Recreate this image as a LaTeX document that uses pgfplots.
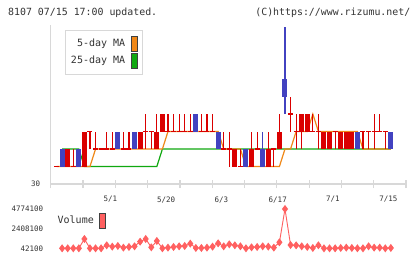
\documentclass[border=0pt]{standalone}
\usepackage{fontspec}
\setmainfont{DejaVu Sans Mono}
\usepackage{pgfplots}
\pgfplotsset{compat=1.18}
\definecolor{cred}{RGB}{218,0,0}
\definecolor{cblue}{RGB}{66,66,192}
\definecolor{maorange}{RGB}{240,136,24}
\definecolor{magreen}{RGB}{16,168,16}
\definecolor{volred}{RGB}{255,96,96}
\definecolor{axgray}{RGB}{216,216,216}
\definecolor{txt}{RGB}{51,51,51}
\begin{document}
\begin{tikzpicture}
\fill[white] (0bp,0bp) rectangle (420bp,259bp);
\useasboundingbox (0bp,0bp) rectangle (420bp,259bp);
\node[anchor=west, text=txt, font=\fontsize{9.9bp}{11bp}\selectfont, inner sep=0pt] at (8bp,246.5bp) {8107 07/15 17:00 updated.};
\node[anchor=east, text=txt, font=\fontsize{9.9bp}{11bp}\selectfont, inner sep=0pt] at (410.5bp,246.5bp) {(C)https://www.rizumu.net/};
% ---------------- price chart ----------------
\begin{axis}[
  scale only axis, width=355.3bp, height=159bp,
  at={(50.7bp,75bp)}, anchor=south west,
  xmin=-1.05, xmax=62.72, ymin=30, ymax=39.09,
  axis lines*=left,
  axis line style={draw=axgray, line width=1.2bp},
  clip=false,
  /pgf/number format/assume math mode=true,
  xtick={-1.05,4.747,10.545,16.342,22.14,27.936,33.73,39.53,45.33,51.12,56.92,62.72},
  xticklabels={},
  x tick style={draw=axgray, line width=1.2bp},
  major tick length=8bp, tick align=center,
  extra x ticks={9.65,19.65,29.6,39.7,49.6,59.55},
  extra x tick labels={5/1,5/20,6/3,6/17,7/1,7/15},
  extra x tick style={major tick length=0pt, tick label style={yshift=-9bp}},
  ytick={30}, yticklabels={30},
  y tick style={draw=none},
  yticklabel style={xshift=-3bp},
  tick label style={font=\fontsize{7.5bp}{8bp}\selectfont, text=txt},
  unbounded coords=jump,
  legend plot pos=right,
  legend cell align=right,
  legend style={at={(0.0402,0.9686)}, anchor=north west, draw=axgray, line width=1bp, fill=white,
    inner xsep=5bp, inner ysep=5.5bp, row sep=1bp, column sep=5bp,
    font=\fontsize{10bp}{11bp}\selectfont, text=txt, nodes={inner sep=0.5bp}},
]
% 25-day MA
\addplot[magreen, line width=1.2bp, forget plot] coordinates {
(1,32)(2,32)(3,32)(4,32)(5,31)(6,31)(7,31)(8,31)(9,31)(10,31)(11,31)(12,31)(13,31)(14,31)(15,31)(16,31)(17,31)(18,31)
(19,32)(20,32)(21,32)(22,32)(23,32)(24,32)(25,32)(26,32)(27,32)(28,32)(29,32)(30,32)(31,32)(32,32)(33,32)(34,32)(35,32)
(36,32)(37,32)(38,32)(39,32)(40,32)(41,32)(42,32)(43,32)(44,32)(45,32)(46,32)(47,32)(48,32)(49,32)(50,32)(51,32)(52,32)
(53,32)(54,32)(55,32)(56,32)(57,32)(58,32)(59,32)(60,32)
};
% 5-day MA
\addplot[maorange, line width=1.2bp, forget plot] coordinates {
(0,31)(1,31)(2,31)(3,31)(4,31)(5,31)(6,31)(7,32)(8,32)(9,32)(10,32)(11,32)(12,32)(13,32)(14,32)(15,32)(16,32)(17,32)
(18,32)(19,32)(20,33)(21,33)(22,33)(23,33)(24,33)(25,33)(26,33)(27,33)(28,33)(29,33)(30,32)(31,32)(32,32)(33,32)
(34,31)(35,31)(36,31)(37,31)(38,31)(39,31)(40,31)(41,32)(42,32)(43,33)(44,33)(45,33)(46,34)(47,33)(48,33)(49,33)
(50,33)(51,33)(52,33)(53,33)(54,33)(55,32)(56,32)(57,32)(58,32)(59,32)(60,32)
};
% red wicks
\addplot[cred, line width=1.1bp, forget plot] coordinates {
(3,31)(3,32)(3,nan)
(6,32)(6,33)(6,nan)
(7,32)(7,33)(7,nan)
(9,32)(9,33)(9,nan)
(10,32)(10,33)(10,nan)
(12,32)(12,33)(12,nan)
(13,32)(13,33)(13,nan)
(16,32)(16,34)(16,nan)
(17,32)(17,33)(17,nan)
(18,32)(18,34)(18,nan)
(20,33)(20,34)(20,nan)
(21,33)(21,34)(21,nan)
(22,33)(22,34)(22,nan)
(23,33)(23,34)(23,nan)
(24,33)(24,34)(24,nan)
(26,33)(26,34)(26,nan)
(27,33)(27,34)(27,nan)
(28,33)(28,34)(28,nan)
(30,32)(30,33)(30,nan)
(31,31)(31,33)(31,nan)
(33,31)(33,32)(33,nan)
(35,31)(35,33)(35,nan)
(36,32)(36,33)(36,nan)
(38,31)(38,33)(38,nan)
(39,31)(39,32)(39,nan)
(40,32)(40,34)(40,nan)
(42,33)(42,35)(42,nan)
(43,32)(43,34)(43,nan)
(44,32)(44,34)(44,nan)
(46,33)(46,34)(46,nan)
(47,32)(47,34)(47,nan)
(50,32)(50,33)(50,nan)
(55,32)(55,33)(55,nan)
(56,32)(56,33)(56,nan)
(57,32)(57,34)(57,nan)
(58,33)(58,34)(58,nan)
(59,32)(59,33)
};
% blue wicks
\addplot[cblue, line width=1.1bp, forget plot] coordinates {
(37,31)(37,33)(37,nan)
(41,34)(41,39)
};
% red bodies
\addplot[cred, line width=5bp, forget plot] coordinates {
(2,31)(2,32)(2,nan)
(5,31)(5,33)(5,nan)
(15,32)(15,33)(15,nan)
(18,32)(18,33)(18,nan)
(19,33)(19,34)(19,nan)
(32,31)(32,32)(32,nan)
(35,31)(35,32)(35,nan)
(38,31)(38,32)(38,nan)
(40,32)(40,33)(40,nan)
(44,33)(44,34)(44,nan)
(45,33)(45,34)(45,nan)
(48,32)(48,33)(48,nan)
(49,32)(49,33)(49,nan)
(51,32)(51,33)(51,nan)
(52,32)(52,33)(52,nan)
(53,32)(53,33)
};
% blue bodies
\addplot[cblue, line width=5bp, forget plot] coordinates {
(1,31)(1,32)(1,nan)
(4,31)(4,32)(4,nan)
(11,32)(11,33)(11,nan)
(14,32)(14,33)(14,nan)
(25,33)(25,34)(25,nan)
(29,32)(29,33)(29,nan)
(34,31)(34,32)(34,nan)
(37,31)(37,32)(37,nan)
(41,35)(41,36)(41,nan)
(54,32)(54,33)(54,nan)
(60,32)(60,33)
};
% doji (open = close)
\addplot[cred, line width=1.2bp, forget plot] coordinates {
(-0.45,31)(0.45,31)(0,nan)
(2.55,31)(3.45,31)(3,nan)
(5.55,33)(6.45,33)(6,nan)
(6.55,32)(7.45,32)(7,nan)
(7.55,32)(8.45,32)(8,nan)
(8.55,32)(9.45,32)(9,nan)
(9.55,32)(10.45,32)(10,nan)
(11.55,32)(12.45,32)(12,nan)
(12.55,32)(13.45,32)(13,nan)
(15.55,33)(16.45,33)(16,nan)
(16.55,33)(17.45,33)(17,nan)
(19.55,33)(20.45,33)(20,nan)
(20.55,33)(21.45,33)(21,nan)
(21.55,33)(22.45,33)(22,nan)
(22.55,33)(23.45,33)(23,nan)
(23.55,33)(24.45,33)(24,nan)
(25.55,33)(26.45,33)(26,nan)
(26.55,33)(27.45,33)(27,nan)
(27.55,33)(28.45,33)(28,nan)
(29.55,32)(30.45,32)(30,nan)
(30.55,32)(31.45,32)(31,nan)
(32.55,31)(33.45,31)(33,nan)
(35.55,32)(36.45,32)(36,nan)
(38.55,32)(39.45,32)(39,nan)
(41.55,34)(42.45,34)(42,nan)
(42.55,33)(43.45,33)(43,nan)
(45.55,33)(46.45,33)(46,nan)
(46.55,33)(47.45,33)(47,nan)
(49.55,33)(50.45,33)(50,nan)
(54.55,33)(55.45,33)(55,nan)
(55.55,33)(56.45,33)(56,nan)
(56.55,33)(57.45,33)(57,nan)
(57.55,33)(58.45,33)(58,nan)
(58.55,33)(59.45,33)
};
\addlegendimage{legend image code/.code={\draw[fill=maorange, draw=black!75, line width=0.7bp] (0bp,-7.6bp) rectangle (6.5bp,7.6bp);}}
\addlegendentry{5-day MA}
\addlegendimage{legend image code/.code={\draw[fill=magreen, draw=black!75, line width=0.7bp] (0bp,-7.6bp) rectangle (6.5bp,7.6bp);}}
\addlegendentry{25-day MA}
\end{axis}
% ---------------- volume chart ----------------
\begin{axis}[
  scale only axis, width=355.3bp, height=39.3bp,
  at={(50.7bp,10.7bp)}, anchor=south west,
  xmin=-1.05, xmax=62.72, ymin=42100, ymax=4774100,
  axis line style={draw=none},
  clip=false,
  xtick=\empty,
  ytick={42100,2408100,4774100}, yticklabels={42100,2408100,4774100},
  scaled y ticks=false,
  major tick length=0pt, y tick style={draw=none},
  yticklabel style={xshift=-4bp},
  tick label style={font=\fontsize{7.5bp}{8bp}\selectfont, text=txt},
  legend plot pos=right,
  legend style={at={(0.0177,0.911)}, anchor=north west, draw=none, fill=none,
    inner sep=0pt, column sep=5bp,
    font=\fontsize{10bp}{11bp}\selectfont, text=txt, nodes={inner sep=0.5bp}},
]
\addplot[volred, line width=0.9bp, mark=diamond*, mark size=3.3bp, mark options={fill=volred, draw=volred}, forget plot] coordinates {
(1,42100)(2,42100)(3,42100)(4,42100)(5,1164900)(6,42100)(7,42100)(8,42100)(9,403000)(10,242600)
(11,322800)(12,122300)(13,202500)(14,282700)(15,844100)(16,1164900)(17,162400)(18,924300)(19,42100)(20,122300)
(21,202500)(22,282700)(23,322800)(24,603500)(25,82200)(26,82200)(27,122300)(28,242600)(29,643600)(30,282700)
(31,523300)(32,403000)(33,282700)(34,42100)(35,162400)(36,202500)(37,282700)(38,242600)(39,122300)(40,763900)
(41,4774100)(42,443100)(43,403000)(44,282700)(45,202500)(46,82200)(47,403000)(48,42100)(49,42100)(50,42100)
(51,82200)(52,122300)(53,82200)(54,42100)(55,42100)(56,282700)(57,122300)(58,122300)(59,42100)(60,82200)
};
\addlegendimage{legend image code/.code={\draw[fill=volred, draw=black!75, line width=0.7bp] (0bp,-7.6bp) rectangle (5.6bp,7.6bp);}}
\addlegendentry{Volume}
\end{axis}
\end{tikzpicture}
\end{document}
